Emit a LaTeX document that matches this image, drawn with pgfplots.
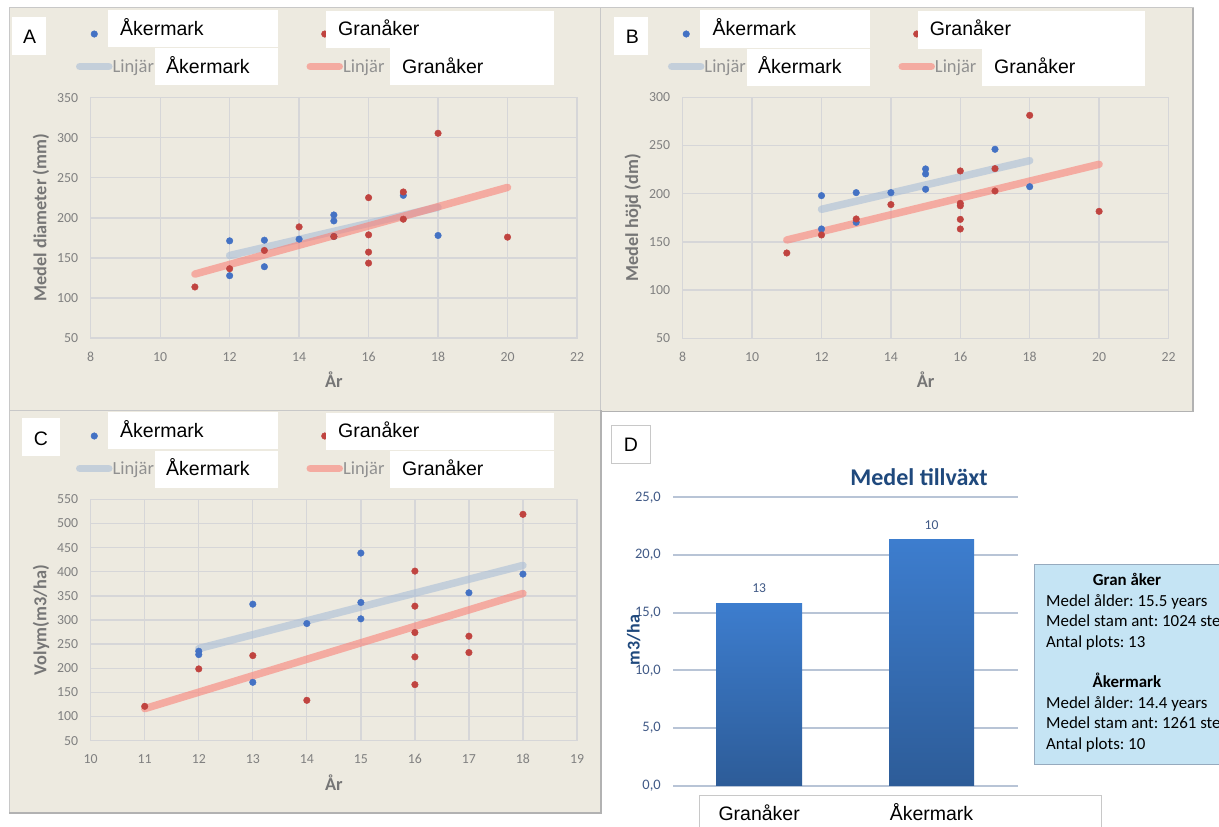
\documentclass[border=0pt]{standalone}
\usepackage{fontspec}
\setmainfont{Carlito}
\newfontfamily\lsans{Liberation Sans}
\usepackage{pgfplots}
\pgfplotsset{compat=1.18}
\frenchspacing

\definecolor{panelbg}{RGB}{237,234,224}
\definecolor{panelbd}{RGB}{200,200,200}
\definecolor{shadowc}{RGB}{178,178,178}
\definecolor{gridc}{RGB}{214,214,216}
\definecolor{tickc}{RGB}{128,128,128}
\definecolor{labc}{RGB}{118,118,118}
\definecolor{bluem}{RGB}{68,114,196}
\definecolor{redm}{RGB}{192,68,64}
\definecolor{bluetr}{RGB}{170,190,215}
\definecolor{redtr}{RGB}{250,130,120}
\definecolor{linjc}{RGB}{145,145,145}
\definecolor{dtick}{RGB}{65,90,135}
\definecolor{dtitle}{RGB}{31,73,125}
\definecolor{dgrid}{RGB}{184,196,214}
\definecolor{bartop}{RGB}{61,125,206}
\definecolor{barbot}{RGB}{45,92,152}
\definecolor{infobg}{RGB}{197,228,244}
\definecolor{infobd}{RGB}{150,170,190}

\newcommand\boxfont{\lsans\fontsize{19.5}{22}\selectfont}
\newcommand\linjfont{\fontsize{18.5}{21}\selectfont}
\newcommand\tickfont{\fontsize{13.8}{16}\selectfont}
\newcommand\labfont{\bfseries\fontsize{18.3}{21}\selectfont}
\newcommand\dtickfont{\fontsize{14.5}{17}\selectfont}
\newcommand\infofont{\fontsize{16.9}{20}\selectfont}

\pgfplotsset{
  scatterpanel/.style={
    scale only axis, anchor=south west,
    grid=major,
    major grid style={draw=gridc, line width=1.3pt},
    axis line style={draw=gridc, line width=1.3pt},
    major tick style={draw=none}, minor tick style={draw=none},
    /pgf/number format/assume math mode=true,
    /pgf/number format/1000 sep={},
    ticklabel style={font=\tickfont, text=tickc, inner sep=0pt},
    yticklabel style={anchor=east, xshift=-12.4pt},
    xticklabel style={anchor=base, yshift=-23.6pt},
    xlabel={År},
    xlabel style={font=\labfont, text=labc, anchor=base, at={([yshift=-49.3pt]axis description cs:0.5,0)}},
    ylabel style={font=\labfont, text=labc, anchor=center},
    legend columns=2,
    legend style={draw=none, fill=none, inner sep=0pt, outer sep=0pt, anchor=north west,
      font=\linjfont,
      nodes={inner sep=0pt, text height=12pt, text depth=0pt, text=linjc, anchor=west},
      /tikz/every odd column/.append style={column sep=0pt},
      /tikz/every even column/.append style={column sep=0pt},
      row sep=20.5pt},
  },
  myscat/.style={only marks, mark=*, mark size=3.3pt, color=#1,
    legend image code/.code={\path[draw=none, fill=none] (0pt,-4pt) rectangle (29pt,4pt); \draw[##1] plot coordinates {(14.5pt,0pt)};}},
  mytrend/.style={color=#1, line width=7.5pt, line cap=round, opacity=0.6,
    legend image code/.code={\path[draw=none, fill=none] (0pt,-4pt) rectangle (29pt,4pt); \draw[##1] (0pt,0pt) -- (29pt,0pt);}},
}

\begin{document}
\begin{tikzpicture}
\path[use as bounding box, clip] (0pt,0pt) rectangle (1219pt,-827pt);
\fill[white] (0pt,0pt) rectangle (1219pt,-827pt);

% panel backgrounds
\filldraw[fill=panelbg, draw=panelbd, line width=1pt] (9pt,-7.5pt) rectangle (600.5pt,-410pt);
\filldraw[fill=panelbg, draw=panelbd, line width=1pt] (600.5pt,-7.5pt) rectangle (1193pt,-411.5pt);
\draw[shadowc, line width=1.6pt] (1193pt,-7.5pt) -- (1193pt,-411.5pt) -- (600.5pt,-411.5pt);
\filldraw[fill=panelbg, draw=panelbd, line width=1pt] (9pt,-410pt) rectangle (601pt,-813pt);
\draw[shadowc, line width=1.6pt] (9pt,-813pt) -- (601pt,-813pt) -- (601pt,-410pt);

% D category box
\filldraw[fill=white, draw=panelbd, line width=1pt] (699.5pt,-795.7pt) rectangle (1101.4pt,-832pt);

% ---------------- Panel A ----------------
\begin{axis}[scatterpanel, at={(90.7pt,-338pt)}, width=486.3pt, height=240.3pt,
  xmin=8, xmax=22, ymin=50, ymax=350, xtick={8,10,...,22}, ytick={50,100,...,350},
  ylabel={Medel diameter (mm)},
  ylabel style={at={([xshift=-49.7pt]axis description cs:0,0.5)}},
  legend style={at={(axis description cs:-0.0302,1.2900)}}]
\addplot[myscat=bluem] coordinates {(12,171.3) (12,127.8) (13,172.1) (13,139) (14,173.4) (15,203.6) (15,196.2) (15,176.7) (17,228.1) (18,178)};
\addlegendentry{\makebox[194pt][l]{}}
\addplot[myscat=redm] coordinates {(11,113.7) (12,136.5) (13,159.3) (14,188.7) (15,176.7) (16,225.2) (16,178.8) (16,157.2) (16,143.5) (17,232.3) (17,198.3) (18,305.6) (20,175.9)};
\addlegendentry{\makebox[194pt][l]{}}
\addplot[mytrend=bluetr] coordinates {(12,153) (18,213.2)};
\addlegendentry{\makebox[194pt][l]{Linjär}}
\addplot[mytrend=redtr] coordinates {(11,129.8) (20,238)};
\addlegendentry{\makebox[194pt][l]{Linjär}}
\end{axis}

% ---------------- Panel B ----------------
\begin{axis}[scatterpanel, at={(682.7pt,-338.3pt)}, width=485.8pt, height=241pt,
  xmin=8, xmax=22, ymin=50, ymax=300, xtick={8,10,...,22}, ytick={50,100,...,300},
  ylabel={Medel höjd (dm)},
  ylabel style={at={([xshift=-49.9pt]axis description cs:0,0.5)}},
  legend style={at={(axis description cs:-0.0303,1.2876)}}]
\addplot[myscat=bluem] coordinates {(12,198) (12,163.4) (13,201.1) (13,170.3) (14,201.1) (15,225.7) (15,220.5) (15,204.6) (17,246.1) (18,207.3)};
\addlegendentry{\makebox[194pt][l]{}}
\addplot[myscat=redm] coordinates {(11,138.5) (12,157.2) (13,173.8) (14,188.7) (16,223.6) (16,190) (16,187.5) (16,173.4) (16,163.4) (17,226) (17,202.8) (18,281.3) (20,181.7)};
\addlegendentry{\makebox[194pt][l]{}}
\addplot[mytrend=bluetr] coordinates {(12,183.8) (18,234.3)};
\addlegendentry{\makebox[194pt][l]{Linjär}}
\addplot[mytrend=redtr] coordinates {(11,152) (20,230.5)};
\addlegendentry{\makebox[194pt][l]{Linjär}}
\end{axis}

% ---------------- Panel C ----------------
\begin{axis}[scatterpanel, at={(90.7pt,-740.7pt)}, width=486.3pt, height=241.4pt,
  xmin=10, xmax=19, ymin=50, ymax=550, xtick={10,11,...,19}, ytick={50,100,...,550},
  xticklabel style={yshift=0.9pt},
  ylabel={Volym(m3/ha)},
  ylabel style={at={([xshift=-49.7pt]axis description cs:0,0.5)}},
  legend style={at={(axis description cs:-0.0302,1.2871)}}]
\addplot[myscat=bluem] coordinates {(12,235.3) (12,228.4) (13,332.8) (13,171) (14,292.7) (15,438.7) (15,336.3) (15,302.4) (17,356.4) (18,395.1)};
\addlegendentry{\makebox[194pt][l]{}}
\addplot[myscat=redm] coordinates {(11,121.2) (12,198.7) (13,226.3) (14,133.7) (16,401.3) (16,328.7) (16,274.1) (16,223.6) (16,166.2) (17,266.5) (17,232.6) (18,518.9)};
\addlegendentry{\makebox[194pt][l]{}}
\addplot[mytrend=bluetr] coordinates {(12,240.9) (18,413.1)};
\addlegendentry{\makebox[194pt][l]{Linjär}}
\addplot[mytrend=redtr] coordinates {(11,116.4) (18,355)};
\addlegendentry{\makebox[194pt][l]{Linjär}}
\end{axis}

% ---------------- Panel D ----------------
\begin{axis}[at={(673pt,-785.7pt)}, anchor=south west, scale only axis,
  width=344.7pt, height=288.4pt,
  xmin=0, xmax=2, ymin=0, ymax=25, ytick={0,5,...,25},
  xtick={0.5,1.5}, xticklabels={Granåker,Åkermark},
  ymajorgrids, major grid style={draw=dgrid, line width=1.8pt},
  axis line style={draw=none}, major tick style={draw=none},
  /pgf/number format/assume math mode=true,
  /pgf/number format/fixed, /pgf/number format/fixed zerofill,
  /pgf/number format/precision=1, /pgf/number format/use comma,
  yticklabel style={font=\dtickfont, text=dtick, anchor=east, inner sep=0pt, xshift=-12pt},
  xticklabel style={font=\boxfont, text=black, anchor=base, inner sep=0pt, yshift=-34.8pt},
  title={Medel tillväxt},
  title style={font=\bfseries\fontsize{24}{28}\selectfont, text=dtitle, anchor=base, at={(axis description cs:0.7137,1.0201)}},
  ylabel={m3/ha},
  ylabel style={font=\bfseries\fontsize{18}{21}\selectfont, text=dtitle, anchor=center, at={([xshift=-39.4pt]axis description cs:0,0.505)}},
  point meta=explicit symbolic,
  nodes near coords={\pgfplotspointmeta},
  every node near coord/.append style={font=\fontsize{13.6}{16}\selectfont, text=dtick, inner sep=0pt, yshift=10.5pt},
  clip=false]
\addplot[ybar, bar width=86pt, bar shift=0pt, draw=none, top color=bartop, bottom color=barbot] coordinates {(0.5,15.81) [13]};
\addplot[ybar, bar width=85pt, bar shift=0pt, draw=none, top color=bartop, bottom color=barbot] coordinates {(1.5,21.3) [10]};
\end{axis}

% ---------------- overlays: legend label boxes ----------------
\tikzset{bx/.style={anchor=base west, inner sep=0pt, font=\boxfont, text=black}}
% A
\fill[white] (108pt,-10pt) rectangle (278pt,-47pt);
\fill[white] (326pt,-11pt) rectangle (554pt,-48pt);
\fill[white] (155pt,-48pt) rectangle (278pt,-85pt);
\fill[white] (390pt,-48pt) rectangle (554pt,-85pt);
\node[bx] at (120pt,-35pt) {Åkermark};
\node[bx] at (338pt,-35pt) {Granåker};
\node[bx] at (166pt,-73pt) {Åkermark};
\node[bx] at (402pt,-73pt) {Granåker};
\fill[white] (11.5pt,-17pt) rectangle (46pt,-55pt);
\node[bx] at (23pt,-43.3pt) {A};
% B
\fill[white] (699.5pt,-10pt) rectangle (869.6pt,-48pt);
\fill[white] (917.8pt,-11pt) rectangle (1144.8pt,-49pt);
\fill[white] (746.9pt,-49pt) rectangle (869.6pt,-86pt);
\fill[white] (982pt,-49pt) rectangle (1144.8pt,-86pt);
\node[bx] at (712.5pt,-35pt) {Åkermark};
\node[bx] at (929.6pt,-35pt) {Granåker};
\node[bx] at (758pt,-73.5pt) {Åkermark};
\node[bx] at (994pt,-73.5pt) {Granåker};
\fill[white] (613.8pt,-17pt) rectangle (648pt,-55pt);
\node[bx] at (625.7pt,-43.3pt) {B};
% C
\fill[white] (108pt,-412pt) rectangle (278pt,-449pt);
\fill[white] (326pt,-413pt) rectangle (554pt,-450pt);
\fill[white] (155pt,-451pt) rectangle (278pt,-488pt);
\fill[white] (390pt,-451pt) rectangle (554pt,-488pt);
\node[bx] at (120pt,-437pt) {Åkermark};
\node[bx] at (338pt,-437pt) {Granåker};
\node[bx] at (166pt,-475pt) {Åkermark};
\node[bx] at (402pt,-475pt) {Granåker};
\fill[white] (21.8pt,-418pt) rectangle (60pt,-456pt);
\node[bx] at (33.7pt,-445pt) {C};
% D
\filldraw[fill=white, draw=panelbd, line width=0.8pt] (611pt,-425pt) rectangle (650.5pt,-463pt);
\node[bx] at (623.7pt,-451pt) {D};

% info box
\filldraw[fill=infobg, draw=infobd, line width=1pt] (1034.3pt,-564.3pt) rectangle (1240pt,-764.3pt);
\tikzset{ix/.style={anchor=base west, inner sep=0pt, font=\infofont, text=black},
         ib/.style={anchor=base, inner sep=0pt, font=\infofont\bfseries, text=black}}
\node[ib] at (1127pt,-585.7pt) {Gran åker};
\node[ix] at (1046pt,-606.15pt) {Medel ålder: 15.5 years};
\node[ix] at (1046pt,-626.6pt) {Medel stam ant: 1024 stems/ha};
\node[ix] at (1046pt,-647.05pt) {Antal plots: 13};
\node[ib] at (1127pt,-687.95pt) {Åkermark};
\node[ix] at (1046pt,-708.4pt) {Medel ålder: 14.4 years};
\node[ix] at (1046pt,-728.85pt) {Medel stam ant: 1261 stems/ha};
\node[ix] at (1046pt,-749.3pt) {Antal plots: 10};
\end{tikzpicture}
\end{document}
